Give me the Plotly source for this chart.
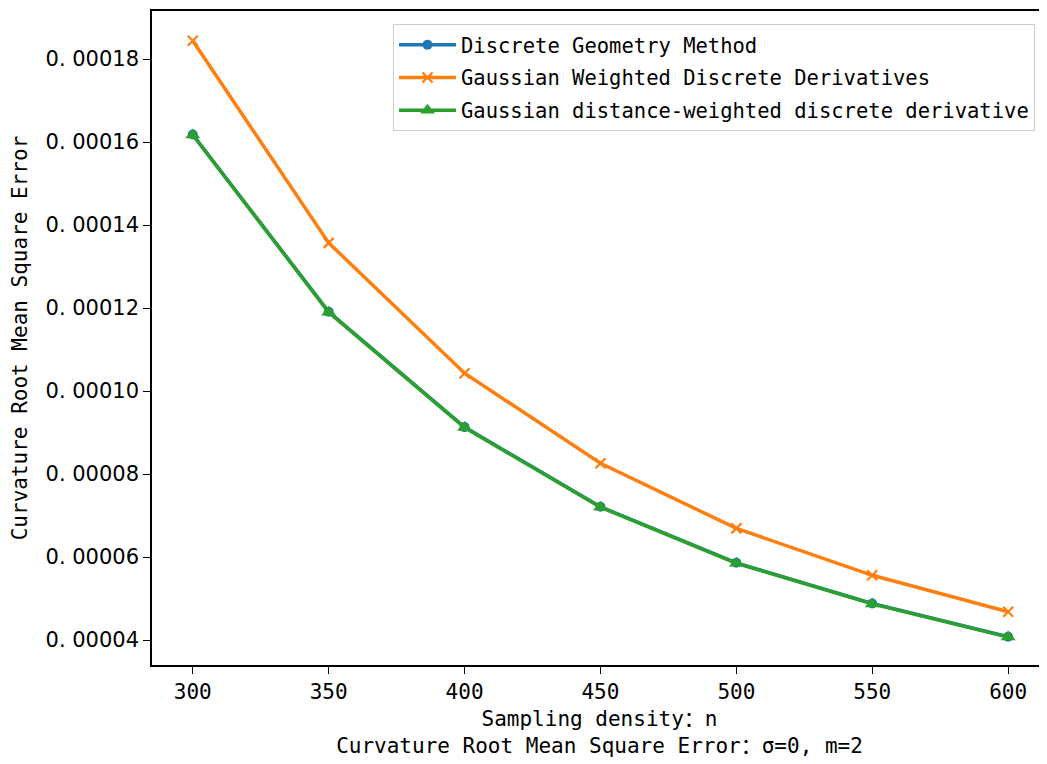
import plotly.graph_objects as go

sampling_n = [300, 350, 400, 450, 500, 550, 600]
discrete_geometry = [0.0001618, 0.0001191, 0.0000913, 0.0000721, 0.0000586, 0.0000488, 0.0000408]
gaussian_weighted = [0.0001844, 0.0001357, 0.0001043, 0.0000826, 0.0000669, 0.0000556, 0.0000468]
gaussian_distance = [0.0001617, 0.0001190, 0.0000912, 0.0000720, 0.0000585, 0.0000487, 0.0000407]

series_names = [
    "Discrete Geometry Method",
    "Gaussian Weighted Discrete Derivatives",
    "Gaussian distance-weighted discrete derivative",
]
x_ticks = [300, 350, 400, 450, 500, 550, 600]
y_ticks = [0.00004, 0.00006, 0.00008, 0.00010, 0.00012, 0.00014, 0.00016, 0.00018]
y_tick_labels = [f"{v:.5f}".replace(".", ". ") for v in y_ticks]

x_title = "Sampling density：n<br>Curvature Root Mean Square Error：σ=0, m=2"
y_title = "Curvature Root Mean Square Error"

MONO = "DejaVu Sans Mono, Noto Sans CJK SC, monospace"

fig = go.Figure()
fig.add_trace(go.Scatter(
    x=sampling_n, y=discrete_geometry, name=series_names[0], mode="lines+markers",
    legendgroup="a",
    line=dict(color="#1f77b4", width=3.5),
    marker=dict(symbol="circle", size=10, color="#1f77b4"),
))
fig.add_trace(go.Scatter(
    x=sampling_n, y=gaussian_weighted, name=series_names[1], mode="lines+markers",
    legendgroup="b",
    line=dict(color="#ff7f0e", width=3.5),
    marker=dict(symbol="x-thin", size=10, color="#ff7f0e", line=dict(color="#ff7f0e", width=2.2)),
))
fig.add_trace(go.Scatter(
    x=sampling_n, y=gaussian_distance, name=series_names[2], mode="lines+markers",
    legendgroup="c",
    line=dict(color="#2ca02c", width=3.5),
    marker=dict(symbol="triangle-up", size=13, color="#2ca02c"),
))

fig.update_layout(
    width=1039, height=756,
    margin=dict(l=144, r=0, t=3, b=99),
    paper_bgcolor="white", plot_bgcolor="white",
    font=dict(family=MONO, size=21, color="black"),
    showlegend=True,
    legend=dict(
        x=(1027 - 144) / 895, y=1 - (16 - 3) / 654, xanchor="right", yanchor="top",
        bgcolor="rgba(255,255,255,0.8)", bordercolor="#cccccc", borderwidth=1,
        font=dict(family=MONO, size=20.5, color="black"),
        itemwidth=57, tracegroupgap=3,
    ),
    xaxis=dict(
        range=[285.0, 614.3],
        tickmode="array", tickvals=x_ticks, ticktext=[str(v) for v in x_ticks],
        ticks="outside", ticklen=7, tickwidth=1.2, tickcolor="black",
        showline=True, linecolor="black", linewidth=1.5, mirror=True,
        showgrid=False, zeroline=False,
        tickfont=dict(family=MONO, size=21),
        title=dict(text=x_title, font=dict(family=MONO, size=21), standoff=8),
    ),
    yaxis=dict(
        range=[0.00003398, 0.00019157],
        tickmode="array", tickvals=y_ticks, ticktext=y_tick_labels,
        ticks="outside", ticklen=7, tickwidth=1.2, tickcolor="black",
        showline=True, linecolor="black", linewidth=1.5, mirror=False,
        showgrid=False, zeroline=False,
        tickfont=dict(family="DejaVu Sans, sans-serif", size=21),
        title=dict(text=y_title, font=dict(family=MONO, size=21), standoff=12),
    ),
)

fig.write_html("out.html")
